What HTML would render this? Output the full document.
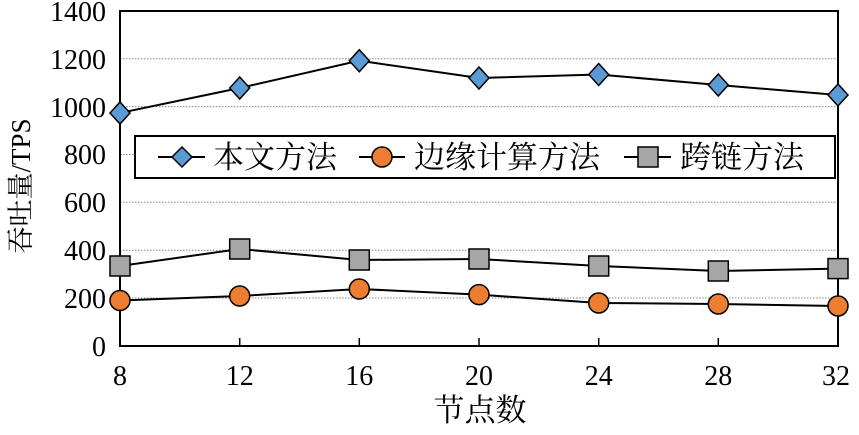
<!DOCTYPE html>
<html><head><meta charset="utf-8"><style>
html,body{margin:0;padding:0;background:#fff}
text{font-family:"Liberation Serif","Noto Serif CJK SC",serif;fill:#000}
</style></head><body>
<svg width="859" height="430" xmlns="http://www.w3.org/2000/svg">
<g stroke="#888" stroke-width="1" stroke-dasharray="1.5,1.5">
<line x1="120" x2="838" y1="298" y2="298"/><line x1="120" x2="838" y1="250.2" y2="250.2"/>
<line x1="120" x2="838" y1="202.3" y2="202.3"/><line x1="120" x2="838" y1="154.5" y2="154.5"/>
<line x1="120" x2="838" y1="106.6" y2="106.6"/><line x1="120" x2="838" y1="58.8" y2="58.8"/>
</g>
<rect x="120" y="11" width="718" height="335" fill="none" stroke="#000" stroke-width="2"/>
<g stroke="#000" stroke-width="1.5">
<line x1="239.7" x2="239.7" y1="346" y2="338"/><line x1="359.3" x2="359.3" y1="346" y2="338"/><line x1="479" x2="479" y1="346" y2="338"/><line x1="598.7" x2="598.7" y1="346" y2="338"/><line x1="718.3" x2="718.3" y1="346" y2="338"/>
</g>
<g font-size="28" text-anchor="end">
<text x="106" y="356">0</text><text x="106" y="308">200</text><text x="106" y="260">400</text><text x="106" y="212">600</text><text x="106" y="164">800</text><text x="106" y="117">1000</text><text x="106" y="69">1200</text><text x="106" y="21">1400</text>
</g>
<g font-size="28" text-anchor="middle">
<text x="120" y="385">8</text><text x="239.7" y="385">12</text><text x="359.3" y="385">16</text><text x="479" y="385">20</text><text x="598.7" y="385">24</text><text x="718.3" y="385">28</text><text x="836" y="385">32</text>
</g>
<text x="480" y="421" font-size="31" text-anchor="middle">节点数</text>
<text transform="translate(30,186) rotate(-90)" font-size="27" text-anchor="middle">吞吐量/TPS</text>
<g stroke="#000" stroke-width="2" fill="none">
<polyline points="120,113 239.7,88 359.3,60.7 479,78 598.7,74.5 718.3,85 838,95"/>
<polyline points="120,266 239.7,249 359.3,260 479,259 598.7,266 718.3,271 838,268.6"/>
<polyline points="120,300.5 239.7,296 359.3,289 479,294.6 598.7,303 718.3,304 838,306"/>
</g>
<g fill="#5b9bd5" stroke="#000" stroke-width="1.5">
<path d="M120,102l10,11l-10,11l-10,-11z"/><path d="M239.7,77l10,11l-10,11l-10,-11z"/><path d="M359.3,49.7l10,11l-10,11l-10,-11z"/><path d="M479,67l10,11l-10,11l-10,-11z"/><path d="M598.7,63.5l10,11l-10,11l-10,-11z"/><path d="M718.3,74l10,11l-10,11l-10,-11z"/><path d="M838,84l10,11l-10,11l-10,-11z"/>
</g>
<g fill="#a6a6a6" stroke="#000" stroke-width="1.5">
<rect x="110" y="256" width="20" height="20"/><rect x="229.7" y="239" width="20" height="20"/><rect x="349.3" y="250" width="20" height="20"/><rect x="469" y="249" width="20" height="20"/><rect x="588.7" y="256" width="20" height="20"/><rect x="708.3" y="261" width="20" height="20"/><rect x="828" y="258.6" width="20" height="20"/>
</g>
<g fill="#ed7d31" stroke="#000" stroke-width="1.5">
<circle cx="120" cy="300.5" r="10"/><circle cx="239.7" cy="296" r="10"/><circle cx="359.3" cy="289" r="10"/><circle cx="479" cy="294.6" r="10"/><circle cx="598.7" cy="303" r="10"/><circle cx="718.3" cy="304" r="10"/><circle cx="838" cy="306" r="10"/>
</g>
<rect x="135" y="136" width="700" height="42" fill="#fff" stroke="#000" stroke-width="2"/>
<g stroke="#000" stroke-width="2">
<line x1="158" x2="205" y1="157" y2="157"/><line x1="359" x2="405" y1="157" y2="157"/><line x1="624" x2="671" y1="157" y2="157"/>
</g>
<path d="M182,147l10,10l-10,10l-10,-10z" fill="#5b9bd5" stroke="#000" stroke-width="1.5"/>
<circle cx="382" cy="157" r="10" fill="#ed7d31" stroke="#000" stroke-width="1.5"/>
<rect x="638" y="147" width="20" height="20" fill="#a6a6a6" stroke="#000" stroke-width="1.5"/>
<g font-size="31">
<text x="213" y="168">本文方法</text><text x="414" y="168">边缘计算方法</text><text x="680" y="168">跨链方法</text>
</g>
</svg>
</body></html>
